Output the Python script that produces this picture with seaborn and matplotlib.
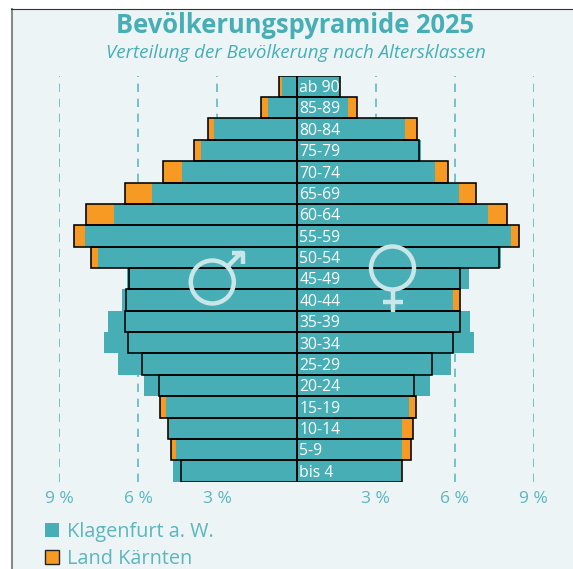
import numpy as np
import pandas as pd
import matplotlib.pyplot as plt
import seaborn as sns
from matplotlib.patches import Patch, Circle

# Values (percent per age class)
age_groups = ['ab 90', '85-89', '80-84', '75-79', '70-74', '65-69', '60-64', '55-59', '50-54', '45-49',
              '40-44', '35-39', '30-34', '25-29', '20-24', '15-19', '10-14', '5-9', 'bis 4']
klu_m = [0.55, 1.07, 3.14, 3.61, 4.35, 5.50, 6.91, 8.02, 7.52, 6.45, 6.62, 7.14, 7.30, 6.79, 5.77, 4.95, 4.82, 4.56, 4.68]
ktn_m = [0.66, 1.36, 3.36, 3.89, 5.05, 6.50, 8.00, 8.44, 7.80, 6.37, 6.48, 6.51, 6.41, 5.88, 5.22, 5.17, 4.86, 4.75, 4.40]
klu_f = [1.63, 1.95, 4.11, 4.74, 5.25, 6.16, 7.27, 8.13, 7.77, 6.55, 5.93, 6.60, 6.72, 5.85, 5.07, 4.26, 4.02, 4.00, 3.98]
ktn_f = [1.66, 2.30, 4.58, 4.65, 5.74, 6.82, 7.99, 8.44, 7.70, 6.21, 6.22, 6.21, 5.93, 5.15, 4.46, 4.53, 4.43, 4.34, 4.00]
grid_ticks = [-9, -6, -3, 3, 6, 9]

TEAL = '#47aeb5'
ORANGE = '#f79a23'
BG = '#ecf4f6'
W, H = 573, 569

df = pd.DataFrame({'age': age_groups, 'klu_m': klu_m, 'ktn_m': ktn_m, 'klu_f': klu_f, 'ktn_f': ktn_f})

fig = plt.figure(figsize=(W / 100, H / 100), dpi=100)
plt.rcParams['font.family'] = ['Open Sans', 'DejaVu Sans']

# background panel with dark top edge and grey line on the left
page = fig.add_axes([0, 0, 1, 1])
page.set_xlim(0, W)
page.set_ylim(H, 0)
page.axis('off')
page.add_patch(plt.Rectangle((12, 9), W - 12, H - 9, fc=BG, ec='none'))
page.plot([12, 12], [8.5, H], color='#868a89', lw=1.5)
page.plot([11, W], [8.5, 8.5], color='#333333', lw=0.8)

# chart axes: 9 % to 9 % = 59.3..533.7 px, rows 75.7..481.7 px
ax = fig.add_axes([59.3 / W, 1 - 481.7 / H, (533.7 - 59.3) / W, (481.7 - 75.7) / H])
ax.patch.set_alpha(0)
for t in grid_ticks:
    ax.axvline(t, color=TEAL, lw=1.2, dashes=(5, 4), zorder=0, alpha=0.85)

# Kaernten fill, then Klagenfurt, then the Kaernten outline on top
for col, sign in [('ktn_m', -1), ('ktn_f', 1)]:
    sns.barplot(x=sign * df[col], y=df['age'], orient='h', width=1, color=ORANGE, saturation=1,
                edgecolor='none', ax=ax, zorder=2)
for col, sign in [('klu_m', -1), ('klu_f', 1)]:
    sns.barplot(x=sign * df[col], y=df['age'], orient='h', width=1, color=TEAL, saturation=1,
                edgecolor='none', ax=ax, zorder=3)
for col, sign in [('ktn_m', -1), ('ktn_f', 1)]:
    sns.barplot(x=sign * df[col], y=df['age'], orient='h', width=1, fill=False, color='black',
                linewidth=1.15, ax=ax, zorder=4)

ax.set_xlim(-9, 9)
ax.set_ylim(18.5, -0.5)
ax.set_xlabel('')
ax.set_ylabel('')
ax.set_yticks([])
ax.set_xticks(grid_ticks)
ax.set_xticklabels([f'{abs(t)} %' for t in grid_ticks], color='#5cb6bd', fontsize=12.5)
ax.tick_params(axis='x', length=0, pad=7)
for s in ax.spines.values():
    s.set_visible(False)

# age labels sit just right of the centre line
for i, lab in enumerate(age_groups):
    ax.text(0.1, i + 0.08, lab, color='white', fontsize=11.3, va='center', ha='left', zorder=6)

# gender symbols on top
over = fig.add_axes([0, 0, 1, 1])
over.set_xlim(0, W)
over.set_ylim(H, 0)
over.axis('off')
sym = dict(color='#c9e6e8', lw=3.2, solid_capstyle='butt')
over.add_patch(Circle((212.3, 282), 21.5, fc='none', ec='#c9e6e8', lw=3.2))
over.plot([228, 242], [266, 252], **sym)
over.plot([232, 243, 243], [252.5, 252.5, 264], **sym)
over.add_patch(Circle((392.5, 268), 21.5, fc='none', ec='#c9e6e8', lw=3.2))
over.plot([392.5, 392.5], [290, 312], **sym)
over.plot([382.5, 403], [301.5, 301.5], **sym)

over.text(294.5, 25, 'Bevölkerungspyramide 2025', color=TEAL, fontsize=18.4, fontweight='bold',
          ha='center', va='center')
over.text(296, 53, 'Verteilung der Bevölkerung nach Altersklassen', color=TEAL, fontsize=13.5,
          style='italic', ha='center', va='center')

handles = [Patch(fc=TEAL, ec='none', label='Klagenfurt a. W.'),
           Patch(fc=ORANGE, ec='#222222', lw=1, label='Land Kärnten')]
over.legend(handles=handles, loc='upper left', bbox_to_anchor=(45 / W, 1 - 522 / H), frameon=False,
            fontsize=14.3, labelcolor='#5cb6bd', handlelength=0.7, handleheight=0.7, handletextpad=0.4,
            labelspacing=0.37, borderpad=0, borderaxespad=0)

fig.savefig('out.png', dpi=100)
